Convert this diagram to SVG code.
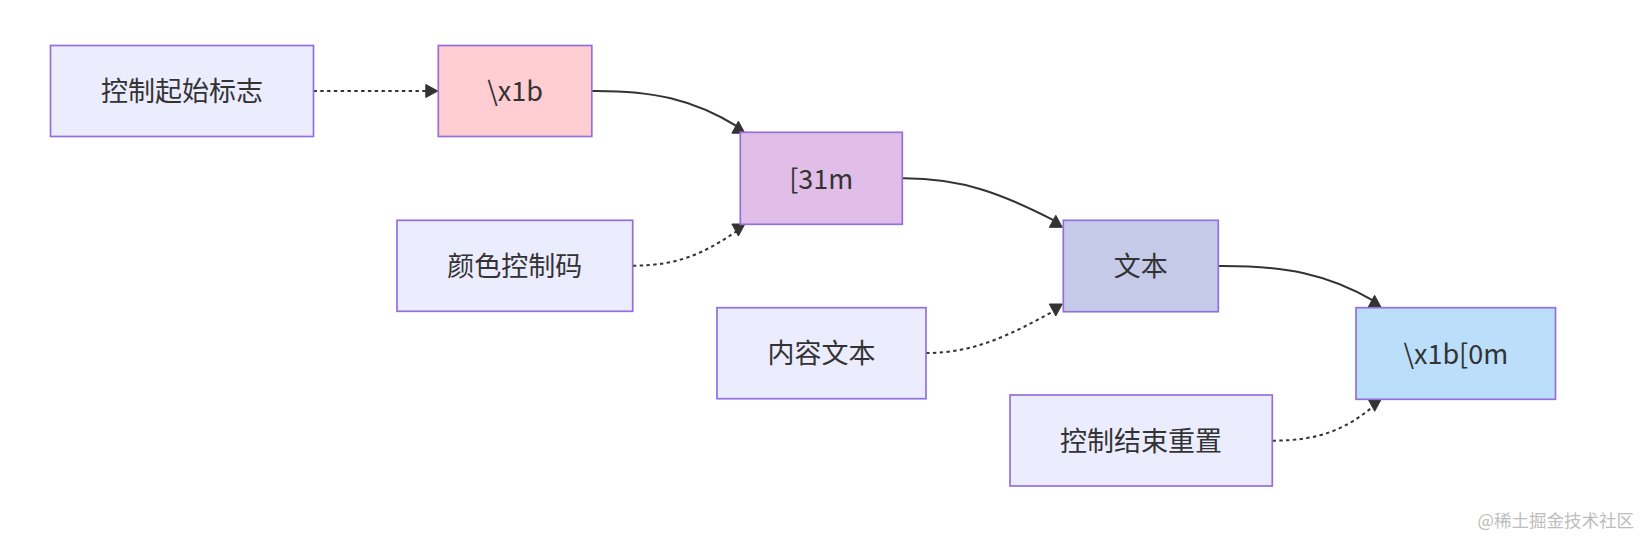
<svg xmlns="http://www.w3.org/2000/svg" xmlns:xlink="http://www.w3.org/1999/xlink" width="1644" height="539" viewBox="0 0 1644 539">
<style>
  .node rect { fill: #ECECFF; stroke: #9370DB; stroke-width: 1.7; }
  .node text { font-family: "Noto Sans CJK SC", "Liberation Sans", sans-serif; font-size: 27px; fill: #333; text-anchor: middle; }
  .edge { fill: none; stroke: #333; stroke-width: 2; }
  .dotted { stroke-dasharray: 3.4 3.4; }
  .arrowhead { fill: #333; stroke: #333; stroke-width: 1; stroke-linejoin: miter; }
  .watermark { font-family: "Noto Sans CJK SC", sans-serif; font-size: 17.5px; fill: #bdbdbd; text-anchor: end; }
</style>
<defs>
  <path id="tri" class="arrowhead" d="M-6,-6.5 L6,0 L-6,6.5 Z"/>
</defs>
<rect x="0" y="0" width="1644" height="539" fill="#ffffff"/>
<g id="connectors">
  <path class="edge dotted" d="M313.5,91 L431.5,91"/>
  <path class="edge" d="M592,91 C652,90.5 693,99 738.4,127.2"/>
  <path class="edge dotted" d="M632.7,265.7 C680,265.7 706,252 738.4,230"/>
  <path class="edge" d="M902.3,178.3 C962,178 1003,194 1055.8,221.3"/>
  <path class="edge dotted" d="M926,353 C975,353 1010,335 1055.8,310"/>
  <path class="edge" d="M1218.3,266 C1285,265.5 1328,274 1374.6,301.3"/>
  <path class="edge dotted" d="M1272.3,440.7 C1320,440.7 1346,429 1374.7,405.3"/>
  <use xlink:href="#tri" href="#tri" transform="translate(431.8,91)"/>
  <use xlink:href="#tri" href="#tri" transform="translate(738.4,127.2) rotate(-90)"/>
  <use xlink:href="#tri" href="#tri" transform="translate(738.4,230) rotate(90)"/>
  <use xlink:href="#tri" href="#tri" transform="translate(1055.8,221.3) rotate(-90)"/>
  <use xlink:href="#tri" href="#tri" transform="translate(1055.8,310) rotate(90)"/>
  <use xlink:href="#tri" href="#tri" transform="translate(1374.6,301.3) rotate(-90)"/>
  <use xlink:href="#tri" href="#tri" transform="translate(1374.7,405.3) rotate(90)"/>
</g>
<g id="node-A" class="node">
  <rect x="50.5" y="45.5" width="263" height="91"/>
  <text x="182" y="101">控制起始标志</text>
</g>
<g id="node-B" class="node">
  <rect x="438.3" y="45.5" width="153.5" height="91" style="fill:#FFCDD2"/>
  <text x="515" y="101">\x1b</text>
</g>
<g id="node-C" class="node">
  <rect x="740.3" y="132.3" width="162" height="92" style="fill:#E1BEE7"/>
  <text x="821.3" y="188.5">[31m</text>
</g>
<g id="node-D" class="node">
  <rect x="397" y="220.3" width="235.7" height="91"/>
  <text x="514.8" y="276">颜色控制码</text>
</g>
<g id="node-E" class="node">
  <rect x="1063.3" y="220.3" width="155" height="91.4" style="fill:#C5CAE9"/>
  <text x="1140.8" y="276">文本</text>
</g>
<g id="node-F" class="node">
  <rect x="717" y="307.7" width="209" height="91"/>
  <text x="821.5" y="363.3">内容文本</text>
</g>
<g id="node-G" class="node">
  <rect x="1356" y="307.7" width="199.5" height="91.6" style="fill:#BBDEFB"/>
  <text x="1455.8" y="363.6">\x1b[0m</text>
</g>
<g id="node-H" class="node">
  <rect x="1010" y="395" width="262.3" height="91"/>
  <text x="1141" y="450.6">控制结束重置</text>
</g>
<text class="watermark" x="1634" y="527">@稀土掘金技术社区</text>
</svg>
